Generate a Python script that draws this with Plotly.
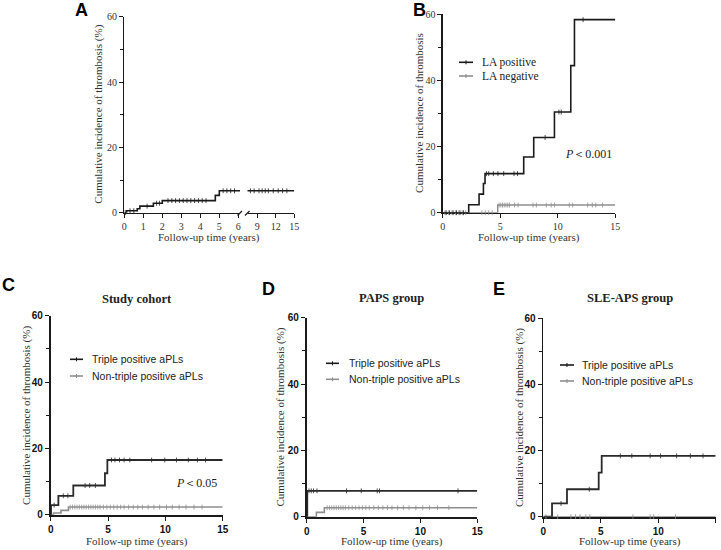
import numpy as np
import plotly.graph_objects as go

W, H = 721, 550

# ---------------- data ----------------
# Panel A: whole cohort (broken x axis 0-6 | 9-15)
a_time = [0, 0.12, 0.68, 0.82, 1.53, 2.0, 4.79, 5.0]
a_cum = [0, 0.6, 1.2, 2.0, 2.9, 3.7, 5.3, 6.7]
a_cens = [0.05, 0.3, 0.5, 1.2, 1.7, 1.85, 2.3, 2.5, 2.7, 2.9, 3.1, 3.3, 3.5, 3.7, 3.9, 4.1, 4.3,
          5.2, 5.4, 5.6, 5.8, 7.9, 8.5, 9.3, 9.8, 10.3, 10.8, 11.6, 12.4, 13.1, 13.8]
a_ticks1 = [0, 1, 2, 3, 4, 5, 6]
a_ticks2 = [9, 12, 15]

# Panel B: LA positive / LA negative
b_pos_time = [0, 2.26, 3.16, 3.54, 3.68, 7.04, 7.91, 9.71, 11.13, 11.45]
b_pos_cum = [0, 2.4, 5.6, 8.8, 11.8, 16.8, 22.7, 30.4, 44.4, 58.3]
b_pos_cens = [0.3, 0.6, 0.9, 1.2, 1.5, 1.8, 3.8, 4.0, 4.4, 4.8, 5.3, 6.2, 6.5, 8.9, 10.1, 10.3, 12.2]
b_neg_time = [0, 4.78]
b_neg_cum = [0, 2.3]
b_neg_cens = [0.2, 0.5, 0.8, 1.1, 1.4, 1.7, 2.0, 3.4, 3.7, 4.0, 4.3, 4.9, 5.05, 5.2, 5.35, 5.5, 5.65, 5.8,
              6.25, 6.55, 7.85, 8.14, 9.0, 9.43, 9.72, 11.0, 11.3, 12.6, 13.0, 13.3, 13.9]

# Panel C: study cohort
c_tri_time = [0, 0.03, 0.67, 1.97, 4.73, 4.94]
c_tri_cum = [0, 2.9, 5.7, 8.8, 12.5, 16.5]
c_tri_cens = [0.3, 1.1, 1.5, 3.0, 3.4, 3.9, 5.3, 5.6, 6.0, 6.4, 6.9, 8.8, 9.95, 10.97, 12.0, 12.8, 13.5]
c_non_time = [0, 0.25, 0.9, 1.55]
c_non_cum = [0, 0.5, 1.3, 2.3]
c_non_cens = [1.7, 1.9, 2.1, 2.3, 2.5, 2.7, 2.9, 3.1, 3.3, 3.5, 3.7, 3.9, 4.1, 4.3, 4.6, 4.9, 5.2, 5.5, 5.8,
              6.1, 6.4, 6.8, 7.2, 7.6, 8.0, 8.5, 9.0, 9.5, 10.1, 10.6, 11.2, 11.8, 12.5, 13.2]

# Panel D: PAPS group
d_tri_time = [0, 0.05]
d_tri_cum = [0, 7.8]
d_tri_cens = [0.2, 0.4, 0.6, 0.9, 3.5, 4.8, 6.2, 6.4, 13.3]
d_non_time = [0, 0.85, 1.55]
d_non_cum = [0, 1.3, 2.7]
d_non_cens = [1.8, 2.0, 2.2, 2.4, 2.6, 2.8, 3.0, 3.2, 3.4, 3.7, 4.0, 4.3, 4.6, 4.9, 5.2, 5.5, 5.9,
              6.3, 6.7, 7.1, 7.5, 8.0, 8.5, 9.0, 9.6, 10.2, 10.8, 11.5, 12.5]

# Panel E: SLE-APS group
e_tri_time = [0, 0.76, 2.06, 4.82, 5.08]
e_tri_cum = [0, 4.0, 8.3, 13.3, 18.4]
e_tri_cens = [1.54, 4.0, 6.7, 7.7, 9.3, 10.2, 11.6, 12.8, 13.9]
e_non_time = [0]
e_non_cum = [0]
e_non_cens = [0.23, 1.25, 2.4, 2.8, 3.2, 3.7, 4.05, 7.8, 9.3, 9.6, 11.5]

y_major = [0, 20, 40, 60]
x_major = [0, 5, 10, 15]
x_end = 15

BLACK = "#1a1a1a"
GREY = "#8e8e8e"
SERIF = "Liberation Serif, Times New Roman, serif"
SANS = "Liberation Sans, Arial, sans-serif"


def fx(p):
    return p / W


def fy(p):
    return 1 - p / H


def km_at(times, vals, t):
    idx = np.searchsorted(np.asarray(times), np.asarray(t), side="right") - 1
    return np.asarray(vals)[idx]


fig = go.Figure()


def add_curve(times, vals, cens, color, xa, ya, width=1.5):
    fig.add_trace(go.Scatter(
        x=list(times) + [x_end], y=list(vals) + [vals[-1]],
        mode="lines", line=dict(color=color, width=width, shape="hv"),
        xaxis=xa, yaxis=ya, showlegend=False, hoverinfo="skip"))
    fig.add_trace(go.Scatter(
        x=cens, y=km_at(times, vals, cens), mode="markers",
        marker=dict(symbol="line-ns", size=3.5, line=dict(color=color, width=0.8)),
        xaxis=xa, yaxis=ya, showlegend=False, hoverinfo="skip", cliponaxis=False))


# Panel A (both segments)
add_curve(a_time, a_cum, [c for c in a_cens if c <= 6.05], BLACK, "x", "y", 1.6)
add_curve(a_time, a_cum, [c for c in a_cens if c >= 7.6], BLACK, "x2", "y", 1.6)
# Panel B
add_curve(b_neg_time, b_neg_cum, b_neg_cens, GREY, "x3", "y2")
add_curve(b_pos_time, b_pos_cum, b_pos_cens, BLACK, "x3", "y2", 1.6)
# Panel C
add_curve(c_non_time, c_non_cum, c_non_cens, GREY, "x4", "y3", 1.6)
add_curve(c_tri_time, c_tri_cum, c_tri_cens, "#2a2a2a", "x4", "y3", 1.8)
# Panel D
add_curve(d_non_time, d_non_cum, d_non_cens, GREY, "x5", "y4", 1.6)
add_curve(d_tri_time, d_tri_cum, d_tri_cens, "#2a2a2a", "x5", "y4", 1.8)
# Panel E
add_curve(e_non_time, e_non_cum, e_non_cens, GREY, "x6", "y5", 1.6)
add_curve(e_tri_time, e_tri_cum, e_tri_cens, "#2a2a2a", "x6", "y5", 1.8)


def xaxis_cfg(dom, rng, anchor, tickvals, font, lw):
    return dict(domain=[fx(dom[0]), fx(dom[1])], range=rng, anchor=anchor, automargin=False,
                showgrid=False, zeroline=False, showline=True, linecolor=BLACK, linewidth=lw,
                ticks="outside", ticklen=4, tickwidth=1, tickcolor=BLACK,
                tickvals=tickvals, ticktext=[str(v) for v in tickvals],
                tickfont=font, layer="below traces", fixedrange=True)


def yaxis_cfg(dom, anchor, font, lw):
    return dict(domain=[fy(dom[1]), fy(dom[0])], range=[0, 60], anchor=anchor, automargin=False,
                showgrid=False, zeroline=False, showline=True, linecolor=BLACK, linewidth=lw,
                ticks="outside", ticklen=4, tickwidth=1, tickcolor=BLACK,
                tickvals=y_major, ticktext=[str(v) for v in y_major],
                minor=dict(tickvals=[10, 30, 50], ticks="outside", ticklen=3, tickwidth=1, tickcolor=BLACK),
                tickfont=font, layer="below traces", fixedrange=True)


serif_tick = dict(family=SERIF, size=10, color="#333333")
sans_tick = dict(family=SANS, size=10, color="#111111", weight="bold")

seg1_end = 240.0
seg1_rng = [0, (seg1_end - 124.3) / 19.0]
fig.update_layout(
    xaxis=xaxis_cfg([124.3, seg1_end], seg1_rng, "y", a_ticks1, serif_tick, 1.3),
    xaxis2=xaxis_cfg([247.5, 294.3], [7.43, 15], "y", a_ticks2, serif_tick, 1.3),
    yaxis=yaxis_cfg([16.7, 212.7], "x", serif_tick, 1.3),
    xaxis3=xaxis_cfg([442.7, 615.3], [0, 15], "y2", x_major, serif_tick, 1.3),
    yaxis2=yaxis_cfg([14, 212.7], "x3", serif_tick, 1.3),
    xaxis4=xaxis_cfg([50.7, 222.7], [0, 15], "y3", x_major, sans_tick, 1.8),
    yaxis3=yaxis_cfg([315.7, 514.7], "x4", sans_tick, 1.8),
    xaxis5=xaxis_cfg([306.7, 477.3], [0, 15], "y4", x_major, sans_tick, 1.8),
    yaxis4=yaxis_cfg([317.7, 516.7], "x5", sans_tick, 1.8),
    xaxis6=xaxis_cfg([543.3, 715.7], [0, 15], "y5", x_major, sans_tick, 1.8),
    yaxis5=yaxis_cfg([318.3, 516.7], "x6", sans_tick, 1.8),
)

ann = []
shapes = []


def text(x, y, s, size, family=SERIF, color="#222222", angle=0, xanchor="center", weight="normal"):
    ann.append(dict(x=fx(x), y=fy(y), xref="paper", yref="paper", text=s, showarrow=False,
                    xanchor=xanchor, yanchor="middle", textangle=angle,
                    font=dict(family=family, size=size, color=color, weight=weight)))


def seg(x0, y0, x1, y1, color, width):
    shapes.append(dict(type="line", xref="paper", yref="paper", x0=fx(x0), y0=fy(y0), x1=fx(x1), y1=fy(y1),
                       line=dict(color=color, width=width)))


# panel letters
for L, x, y in [("A", 81.5, 9.5), ("B", 419, 10), ("C", 8.5, 285), ("D", 268.5, 289), ("E", 499, 289)]:
    text(x, y, L, 18, family=SANS, color="#000000", weight="bold")

# panel titles
text(136.7, 298.5, "<b>Study cohort</b>", 12.5)
text(391.7, 298, "<b>PAPS group</b>", 12.5)
text(630, 298, "<b>SLE-APS group</b>", 12.5)

# axis titles
ytitle = "Cumulative incidence of thrombosis (%)"
text(99, 114.7, ytitle, 11, angle=-90, color="#333333")
text(419.5, 113.4, "Cumulative incidence of thrombosis", 11, angle=-90, color="#333333")
text(26.7, 415.2, ytitle, 11, angle=-90, color="#333333")
text(280.3, 417.2, ytitle, 11, angle=-90, color="#333333")
text(519.5, 417.5, ytitle, 11, angle=-90, color="#333333")
xtitle = "Follow-up time (years)"
text(209.3, 237, xtitle, 11, color="#333333")
text(529, 237, xtitle, 11, color="#333333")
text(136.7, 541, xtitle, 11, color="#333333")
text(392, 541, xtitle, 11, color="#333333")
text(629.5, 541, xtitle, 11, color="#333333")

# p-values
text(588, 154, "<i>P</i>＜0.001", 12, color="#222222")
text(196.5, 483.3, "<i>P</i>＜0.05", 12, color="#222222")

# legends (drawn as small samples)
legends = [
    (459, 473, 480, 62.3, 76.0, "LA positive", "LA negative", SERIF, 11.5),
    (70, 83, 90, 359.3, 376.0, "Triple positive aPLs", "Non-triple positive aPLs", SANS, 10.5),
    (326, 339, 346.7, 363.3, 379.3, "Triple positive aPLs", "Non-triple positive aPLs", SANS, 10.5),
    (560, 574, 580, 365.0, 381.0, "Triple positive aPLs", "Non-triple positive aPLs", SANS, 10.5),
]
for x0, x1, tx, y1, y2, s1, s2, fam, fs in legends:
    for yy, col, s in [(y1, BLACK, s1), (y2, GREY, s2)]:
        seg(x0, yy, x1, yy, col, 1.6)
        xm = (x0 + x1) / 2
        seg(xm, yy - 2, xm, yy + 2, col, 1)
        text(tx, yy, s, fs, family=fam, color="#222222", xanchor="left")

# axis break marks (panel A)
seg(237.5, 215.5, 242.0, 211.0, BLACK, 1.2)
seg(245.0, 215.5, 249.5, 211.0, BLACK, 1.2)

fig.update_layout(
    width=W, height=H, margin=dict(l=0, r=0, t=0, b=0, autoexpand=False),
    paper_bgcolor="white", plot_bgcolor="white",
    annotations=ann, shapes=shapes, showlegend=False,
)

fig.write_html(
    "out.html",
    config={"displayModeBar": False, "staticPlot": True},
    post_script="document.body.style.margin='0';document.body.style.overflow='hidden';",
)
